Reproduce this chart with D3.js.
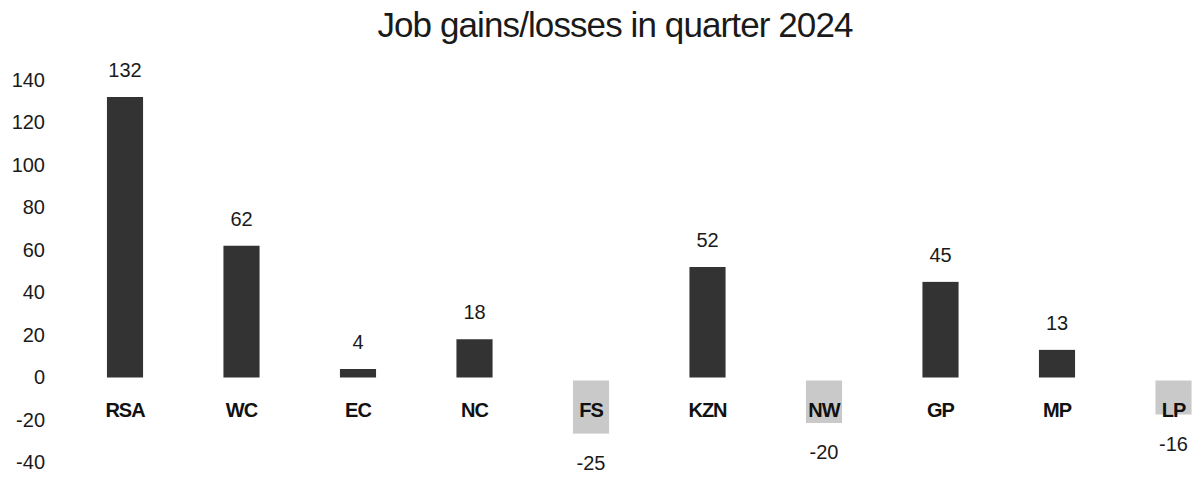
<html>
<head>
<meta charset="utf-8">
<title>Job gains/losses</title>
<script src="https://d3js.org/d3.v7.min.js"></script>
<style>
body { margin: 0; background: #fff; font-family: 'Liberation Sans', Arial, sans-serif; }
</style>
</head>
<body>
<svg id="svg" width="1198" height="492"></svg>
<script>
// data
const regions = ["RSA", "WC", "EC", "NC", "FS", "KZN", "NW", "GP", "MP", "LP"];
const changes = [132, 62, 4, 18, -25, 52, -20, 45, 13, -16];
const yTicks = [140, 120, 100, 80, 60, 40, 20, 0, -20, -40];
const title = "Job gains/losses in quarter 2024";

const svg = d3.select("#svg");

// scales
const x = d3.scaleBand()
    .domain(regions)
    .range([66.75, 1231.75])
    .paddingInner(0.69)
    .paddingOuter(0.345);

const y = d3.scaleLinear()
    .domain([-40, 140])
    .range([462.5, 80]);

// title
svg.append("text")
    .attr("x", 615)
    .attr("y", 37)
    .attr("text-anchor", "middle")
    .attr("font-size", "35px")
    .attr("letter-spacing", "-0.9px")
    .attr("fill", "#1a1a1a")
    .text(title);

// y axis labels only, no line (plain hyphen for negatives)
const yAxis = d3.axisLeft(y).tickValues(yTicks).tickSize(0).tickPadding(0)
    .tickFormat(d => String(d));
const ag = svg.append("g")
    .attr("transform", "translate(45,0)")
    .call(yAxis);
ag.select(".domain").remove();
ag.selectAll("text")
    .attr("font-size", "20px")
    .attr("font-family", "'Liberation Sans', Arial, sans-serif")
    .attr("fill", "#1a1a1a");

const data = regions.map((r, i) => ({ region: r, value: changes[i] }));

// bars
svg.selectAll("rect.bar")
    .data(data)
    .join("rect")
    .attr("class", "bar")
    .attr("x", d => x(d.region))
    .attr("width", x.bandwidth())
    .attr("y", d => d.value >= 0 ? y(d.value) : y(0) + 3)
    .attr("height", d => Math.abs(y(d.value) - y(0)))
    .attr("fill", d => d.value >= 0 ? "#333333" : "#c9c9c9");

// value labels
svg.selectAll("text.val")
    .data(data)
    .join("text")
    .attr("class", "val")
    .attr("x", d => x(d.region) + x.bandwidth() / 2)
    .attr("y", d => d.value >= 0 ? y(d.value) - 20 : y(d.value) + 39)
    .attr("text-anchor", "middle")
    .attr("font-size", "20px")
    .attr("fill", "#1a1a1a")
    .text(d => d.value);

// category labels
svg.selectAll("text.cat")
    .data(data)
    .join("text")
    .attr("class", "cat")
    .attr("x", d => x(d.region) + x.bandwidth() / 2)
    .attr("y", 417)
    .attr("text-anchor", "middle")
    .attr("font-size", "20px")
    .attr("font-weight", "bold")
    .attr("letter-spacing", "-1px")
    .attr("fill", "#111")
    .text(d => d.region);
</script>
</body>
</html>
